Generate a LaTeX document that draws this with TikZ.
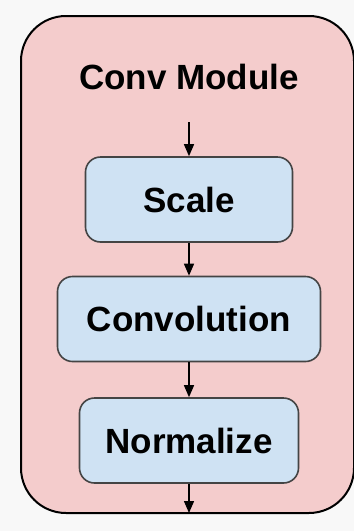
\documentclass[tikz,border=0pt]{standalone}
\usepackage{fontspec}
\setmainfont{Liberation Sans}
\usetikzlibrary{arrows.meta}
\definecolor{paper}{RGB}{248, 248, 248}
\definecolor{blush}{RGB}{244, 204, 204}
\definecolor{sky}{RGB}{207, 226, 243}
\definecolor{slate}{RGB}{68, 68, 68}
\begin{document}
\begin{tikzpicture}[x=1pt, y=-1pt,
        stage/.style={draw=slate, line width=1.6pt, fill=sky, rounded corners=15pt,
                      minimum height=85pt, font=\fontsize{35}{42}\selectfont\bfseries},
        flow/.style={line width=1.4pt, -{Triangle[length=12pt,width=10pt]}}]
            \fill[paper] (0,0) rectangle (354,531);
            \useasboundingbox (0,0) rectangle (354,531);
            \filldraw[fill=blush, draw=black, line width=2pt, rounded corners=45pt] (21,16) rectangle (354,513);
            \node[font=\fontsize{35}{42}\selectfont\bfseries] (title) at (189,77) {Conv Module};
            \coordinate (in)  at (189,122);
            \coordinate (out) at (189,513);
            \node[stage, minimum width=207pt] (scale) at (189,199.5) {Scale};
            \node[stage, minimum width=263pt] (conv)  at (189,319)   {Convolution};
            \node[stage, minimum width=219pt] (norm)  at (189,440.5) {Normalize};
            \draw[flow] (in)    -- (scale);
            \draw[flow] (scale) -- (conv);
            \draw[flow] (conv)  -- (norm);
            \draw[flow] (norm)  -- (out);
        \end{tikzpicture}
\end{document}
